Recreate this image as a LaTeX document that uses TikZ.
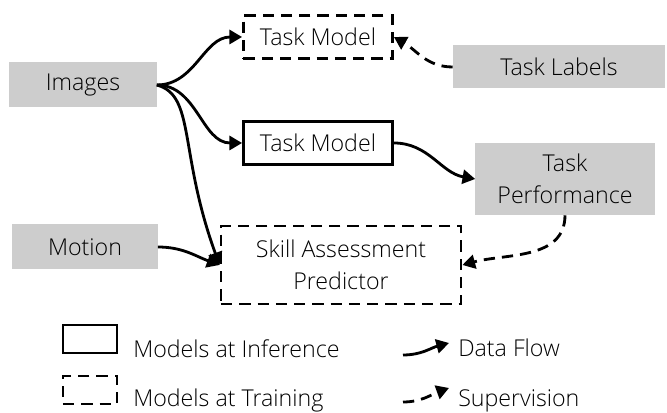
\documentclass[tikz,border=0pt]{standalone}
\usepackage{fontspec}
\IfFontExistsTF{Open Sans Light}{\setmainfont{Open Sans Light}}{\setmainfont{Lato}}
\usetikzlibrary{arrows.meta,positioning}
\definecolor{boxgray}{RGB}{205,205,205}

\begin{document}
\begin{tikzpicture}[x=0.025cm,y=0.025cm,
    font=\fontsize{16.5}{23}\selectfont,
    every node/.style={inner sep=0pt,align=center},
    src/.style={fill=boxgray},
    model/.style={draw,line width=2pt},
    train/.style={model,dash pattern=on 8pt off 5pt},
    flow/.style={line width=2pt,-{Triangle[length=9pt,width=10pt]}},
    sup/.style={flow,dash pattern=on 8pt off 5pt}]
    \useasboundingbox (0,0) rectangle (667,413);
    \node[src,minimum width=3.675cm,minimum height=1.125cm] (img) at (83,328) {Images};
    \node[train,minimum width=3.725cm,minimum height=1.075cm] (tmtrain) at (318,376) {Task Model};
    \node[src,minimum width=5.3cm,minimum height=1.075cm] (lbl) at (559,346) {Task Labels};
    \node[model,minimum width=3.725cm,minimum height=1.075cm] (tm) at (318,270) {Task Model};
    \node[src,minimum width=4.475cm,minimum height=1.8cm] (perf) at (565,234) {Task\\Performance};
    \node[src,minimum width=3.625cm,minimum height=1.125cm] (mot) at (85,166) {Motion};
    \node[train,minimum width=6cm,minimum height=1.95cm] (skill) at (341,148) {Skill Assessment\\Predictor};
    \draw[flow] (img.east) to[out=0,in=180] (tmtrain.west);
    \draw[flow] (img.east) to[out=0,in=180] (tm.west);
    \draw[flow] (img.east) to[out=-15,in=110,out distance=1cm,in distance=3cm] (skill.west);
    \draw[flow] (mot.east) to[out=0,in=160] (skill.west);
    \draw[flow] (tm.east) to[out=0,in=170] (perf.west);
    \draw[sup] (lbl.west) to[out=180,in=-30] (tmtrain.east);
    \draw[sup] (perf.south) to[out=-90,in=15] (skill.east);
    % legend
    \node[model,minimum width=1.35cm,minimum height=0.7cm] (keymodel) at (90,74) {};
    \node[anchor=base west] (keyinf) at (133,55) {Models at Inference};
    \node[train,minimum width=1.35cm,minimum height=0.7cm] (keytrain) at (90,23) {};
    \node[anchor=base west] (keytr) at (133,6) {Models at Training};
    \coordinate (df1) at (403,58);
    \coordinate (df2) at (449,70);
    \draw[flow] (df1) to[out=0,in=195] (df2);
    \node[anchor=base west] (keydf) at (458,56) {Data Flow};
    \coordinate (sv1) at (403,11);
    \coordinate (sv2) at (449,25);
    \draw[sup] (sv1) to[out=0,in=200] (sv2);
    \node[anchor=base west] (keysv) at (458,6) {Supervision};
\end{tikzpicture}
\end{document}
